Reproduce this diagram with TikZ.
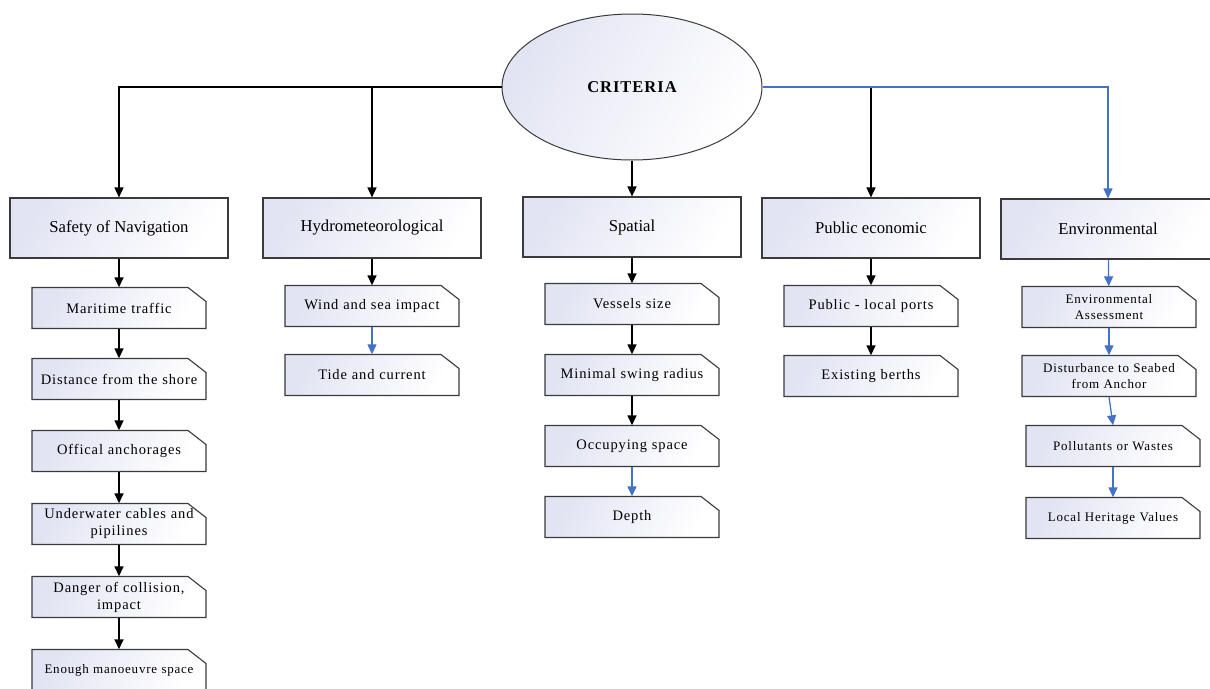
\documentclass[tikz,border=0pt]{standalone}
\usepackage{fontspec}
\setmainfont{Liberation Serif}
\newfontfamily\trackfont[LetterSpace=6]{Liberation Serif}
\usetikzlibrary{shapes.geometric,arrows.meta}
\definecolor{lav}{HTML}{E2E4F3}
\definecolor{edge}{HTML}{3A3A3A}
\definecolor{flowblue}{HTML}{4472C4}
\tikzset{
  shadefill/.style={left color=lav, right color=white, shading angle=60},
  topbox/.style={draw=edge, line width=1.1pt, shadefill, minimum width=218pt,
    minimum height=60pt, inner sep=2pt, font=\fontsize{16.7}{19}\selectfont},
  snipoutline/.style={draw=edge, line width=1.1pt, shadefill},
  subtext/.style={rectangle, minimum width=174pt, minimum height=41pt,
    inner sep=0pt, align=center, text width=170pt,
    font=\trackfont\fontsize{14.5}{17}\selectfont},
  smalltext/.style={font=\trackfont\fontsize{13}{15.5}\selectfont},
  link/.style={line width=1.5pt, -{Triangle[length=10pt,width=9pt]}},
  bluelink/.style={line width=1.3pt, draw=flowblue, color=flowblue,
    -{Triangle[length=10pt,width=9pt]}},
}
% box with a clipped top-right corner: #2 name, #3 centre, #4 text
\newcommand\snipbox[4][]{%
  \begin{scope}[shift={#3}]
    \path[snipoutline] (-87,-20.5) -- (69,-20.5) -- (87,-6.5) -- (87,20.5)
      -- (-87,20.5) -- cycle;
  \end{scope}
  \node[subtext,#1] (#2) at #3 {#4};%
}
\begin{document}
\begin{tikzpicture}[x=1pt,y=-1pt]
\useasboundingbox (0,0) rectangle (1210,688);

% root
\node[ellipse, draw=edge, line width=1pt, shadefill, minimum width=260pt,
  minimum height=146pt, font=\trackfont\bfseries\fontsize{16.5}{19}\selectfont]
  (crit) at (632,87) {CRITERIA};

% category boxes
\node[topbox] (nav) at (119,228) {Safety of Navigation};
\node[topbox] (hyd) at (372,228) {Hydrometeorological};
\node[topbox] (spa) at (632,227) {Spatial};
\node[topbox] (pub) at (871,228) {Public economic};
\node[topbox, minimum width=214pt] (env) at (1108,229) {Environmental};

% safety of navigation
\snipbox{n1}{(119,308)}{Maritime traffic}
\snipbox{n2}{(119,379)}{Distance from the shore}
\snipbox{n3}{(119,451)}{Offical anchorages}
\snipbox{n4}{(119,524)}{Underwater cables and\\pipilines}
\snipbox{n5}{(119,597)}{Danger of collision,\\impact}
\snipbox[smalltext]{n6}{(119,670)}{Enough manoeuvre space}

% hydrometeorological
\snipbox{h1}{(372,306)}{Wind and sea impact}
\snipbox{h2}{(372,375)}{Tide and current}

% spatial
\snipbox{s1}{(632,304)}{Vessels size}
\snipbox{s2}{(632,375)}{Minimal swing radius}
\snipbox{s3}{(632,446)}{Occupying space}
\snipbox{s4}{(632,517)}{Depth}

% public economic
\snipbox{p1}{(871,306)}{Public - local ports}
\snipbox{p2}{(871,376)}{Existing berths}

% environmental
\snipbox[smalltext]{e1}{(1109,307)}{Environmental\\Assessment}
\snipbox[smalltext]{e2}{(1109,376)}{Disturbance to Seabed\\from Anchor}
\snipbox[smalltext]{e3}{(1113,446)}{Pollutants or Wastes}
\snipbox[smalltext]{e4}{(1113,518)}{Local Heritage Values}

% root connectors
\draw[link] (crit.west) -| (nav.north);
\draw[link] (crit.west) -| (hyd.north);
\draw[link] (crit.south) -- (spa.north);
\draw[link] (crit.east) -| (pub.north);
\draw[bluelink] (crit.east) -| (env.north);

% chains
\draw[link] (nav) -- (n1);
\draw[link] (n1) -- (n2);
\draw[link] (n2) -- (n3);
\draw[link] (n3) -- (n4);
\draw[link] (n4) -- (n5);
\draw[link] (n5) -- (n6);

\draw[link] (hyd) -- (h1);
\draw[bluelink] (h1) -- (h2);

\draw[link] (spa) -- (s1);
\draw[link] (s1) -- (s2);
\draw[link] (s2) -- (s3);
\draw[bluelink] (s3) -- (s4);

\draw[link] (pub) -- (p1);
\draw[link] (p1) -- (p2);

\draw[bluelink] (env) -- (e1);
\draw[bluelink] (e1) -- (e2);
\draw[bluelink] (e2.south) -- (e3.north);
\draw[bluelink] (e3) -- (e4);
\end{tikzpicture}
\end{document}
